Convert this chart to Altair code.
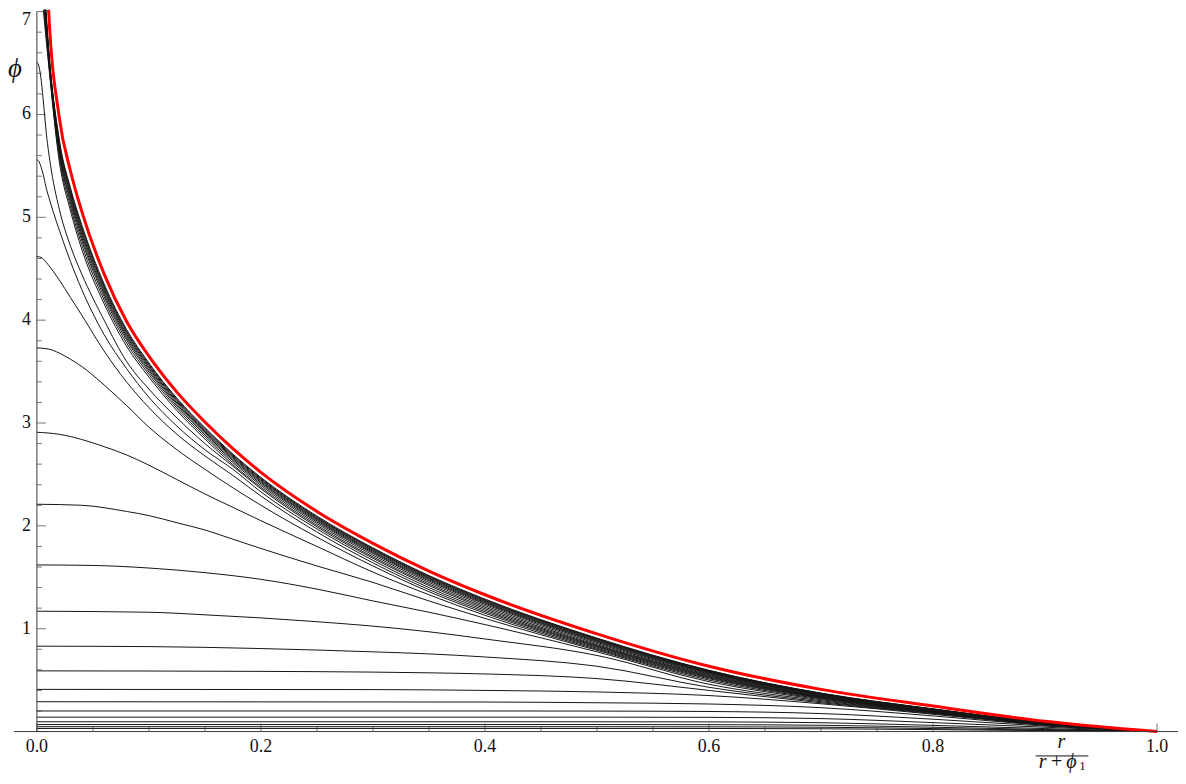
import altair as alt
import pandas as pd

# ---------------- data ----------------
# shared x grid (r/(r+phi1)) for the red envelope and the dense band of curves
GRID_UP = [0.005, 0.01, 0.02, 0.03, 0.04, 0.06, 0.08, 0.1, 0.125, 0.15, 0.175,
           0.2, 0.25, 0.3, 0.35, 0.4, 0.5, 0.6, 0.7, 0.8, 0.9, 1.0]
RED_PHI = [8.6, 7.12, 5.97, 5.45, 5.06, 4.45, 3.99, 3.65, 3.30, 3.01, 2.75,
           2.52, 2.14, 1.83, 1.56, 1.33, 0.95, 0.635, 0.41, 0.248, 0.10, 0.0]

BAND_1 = [7.60, 6.713, 5.757, 5.285, 4.929, 4.353, 3.911, 3.584, 3.241, 2.956, 2.698,
          2.471, 2.095, 1.786, 1.517, 1.288, 0.909, 0.596, 0.374, 0.221, 0.0874, 0.0]
BAND_2 = [7.55, 6.698, 5.738, 5.265, 4.908, 4.336, 3.896, 3.572, 3.230, 2.946, 2.689,
          2.462, 2.086, 1.779, 1.510, 1.281, 0.903, 0.592, 0.372, 0.219, 0.0863, 0.0]
BAND_3 = [7.50, 6.682, 5.719, 5.245, 4.887, 4.318, 3.881, 3.559, 3.219, 2.936, 2.679,
          2.453, 2.078, 1.771, 1.502, 1.274, 0.898, 0.588, 0.369, 0.218, 0.0853, 0.0]
BAND_4 = [7.45, 6.665, 5.697, 5.223, 4.863, 4.299, 3.865, 3.546, 3.207, 2.925, 2.669,
          2.444, 2.069, 1.762, 1.494, 1.266, 0.891, 0.584, 0.367, 0.216, 0.0841, 0.0]
BAND_5 = [7.40, 6.646, 5.674, 5.199, 4.837, 4.278, 3.847, 3.531, 3.194, 2.913, 2.658,
          2.433, 2.059, 1.752, 1.485, 1.257, 0.884, 0.579, 0.364, 0.2145, 0.0829, 0.0]
BAND_6 = [7.35, 6.624, 5.648, 5.172, 4.808, 4.254, 3.828, 3.514, 3.180, 2.900, 2.645,
          2.422, 2.049, 1.742, 1.475, 1.248, 0.876, 0.574, 0.360, 0.2125, 0.0815, 0.0]
BAND_7 = [7.30, 6.602, 5.621, 5.143, 4.778, 4.229, 3.807, 3.496, 3.164, 2.885, 2.632,
          2.409, 2.037, 1.731, 1.464, 1.238, 0.867, 0.568, 0.357, 0.210, 0.0800, 0.0]
BAND_8 = [7.20, 6.572, 5.585, 5.105, 4.737, 4.196, 3.779, 3.473, 3.144, 2.866, 2.615,
          2.393, 2.022, 1.716, 1.450, 1.224, 0.856, 0.561, 0.352, 0.2075, 0.0780, 0.0]
BAND_9 = [7.10, 6.539, 5.544, 5.063, 4.692, 4.160, 3.748, 3.447, 3.121, 2.845, 2.595,
          2.375, 2.005, 1.699, 1.434, 1.209, 0.844, 0.553, 0.347, 0.204, 0.0758, 0.0]

C18_X = [0, 0.002, 0.004, 0.006, 0.0086, 0.012, 0.02, 0.03, 0.04, 0.06, 0.08, 0.1, 0.125,
         0.15, 0.175, 0.2, 0.25, 0.3, 0.35, 0.4, 0.5, 0.6, 0.7, 0.8, 0.9, 1.0]
C18_PHI = [6.51, 6.46, 6.32, 6.1, 5.8, 5.52, 5.08, 4.72, 4.45, 4.0, 3.6, 3.33, 3.05,
           2.80, 2.58, 2.36, 1.99, 1.685, 1.42, 1.195, 0.836, 0.545, 0.342, 0.201, 0.074, 0.0]
C17_X = [0, 0.002, 0.004, 0.0056, 0.008, 0.0116, 0.0234, 0.03, 0.04, 0.06, 0.08, 0.1, 0.125,
         0.15, 0.175, 0.2, 0.25, 0.3, 0.35, 0.4, 0.5, 0.6, 0.7, 0.8, 0.9, 1.0]
C17_PHI = [5.56, 5.54, 5.48, 5.42, 5.3, 5.16, 4.77, 4.57, 4.3, 3.86, 3.53, 3.25, 2.97,
           2.74, 2.55, 2.33, 1.97, 1.665, 1.40, 1.18, 0.828, 0.538, 0.338, 0.199, 0.073, 0.0]
C16_X = [0, 0.005, 0.01, 0.02, 0.03, 0.04, 0.06, 0.08, 0.1, 0.125, 0.15, 0.175,
         0.2, 0.25, 0.3, 0.35, 0.4, 0.5, 0.6, 0.7, 0.8, 0.9, 1.0]
C16_PHI = [4.62, 4.6, 4.54, 4.39, 4.22, 4.05, 3.70, 3.40, 3.15, 2.89, 2.68, 2.49,
           2.29, 1.94, 1.64, 1.38, 1.165, 0.82, 0.53, 0.334, 0.197, 0.0725, 0.0]
C15_X = [0, 0.01, 0.02, 0.03, 0.04, 0.06, 0.08, 0.1, 0.125, 0.15, 0.175,
         0.2, 0.25, 0.3, 0.35, 0.4, 0.5, 0.6, 0.7, 0.8, 0.9, 1.0]
C15_PHI = [3.73, 3.72, 3.68, 3.62, 3.55, 3.37, 3.17, 2.96, 2.74, 2.55, 2.37,
           2.20, 1.89, 1.61, 1.36, 1.15, 0.81, 0.522, 0.33, 0.195, 0.072, 0.0]
C14_X = [0, 0.02, 0.04, 0.06, 0.08, 0.1, 0.125, 0.15, 0.175, 0.2, 0.25, 0.3, 0.35,
         0.4, 0.5, 0.6, 0.7, 0.8, 0.9, 1.0]
C14_PHI = [2.91, 2.89, 2.84, 2.77, 2.69, 2.59, 2.45, 2.31, 2.18, 2.05, 1.80, 1.55, 1.33,
           1.13, 0.80, 0.513, 0.325, 0.193, 0.071, 0.0]
C13_X = [0, 0.04, 0.08, 0.1, 0.125, 0.15, 0.175, 0.2, 0.25, 0.3, 0.35, 0.4, 0.5, 0.6,
         0.7, 0.8, 0.9, 1.0]
C13_PHI = [2.21, 2.2, 2.14, 2.1, 2.03, 1.96, 1.87, 1.78, 1.61, 1.45, 1.27, 1.10, 0.79, 0.50,
           0.318, 0.19, 0.070, 0.0]
C12_X = [0, 0.05, 0.1, 0.15, 0.2, 0.25, 0.3, 0.35, 0.4, 0.5, 0.6, 0.7, 0.8, 0.9, 1.0]
C12_PHI = [1.62, 1.615, 1.59, 1.545, 1.48, 1.385, 1.27, 1.16, 1.04, 0.775, 0.485, 0.31, 0.187,
           0.069, 0.0]
C11_X = [0, 0.1, 0.15, 0.2, 0.25, 0.3, 0.35, 0.4, 0.5, 0.6, 0.7, 0.8, 0.9, 1.0]
C11_PHI = [1.17, 1.16, 1.135, 1.105, 1.068, 1.025, 0.97, 0.9, 0.74, 0.46, 0.30, 0.184, 0.068, 0.0]
C10_X = [0, 0.1, 0.2, 0.3, 0.35, 0.4, 0.5, 0.6, 0.7, 0.8, 0.9, 1.0]
C10_PHI = [0.83, 0.826, 0.807, 0.775, 0.755, 0.725, 0.635, 0.43, 0.29, 0.18, 0.067, 0.0]
C9_X = [0, 0.2, 0.3, 0.35, 0.4, 0.5, 0.6, 0.7, 0.8, 0.9, 1.0]
C9_PHI = [0.59, 0.585, 0.578, 0.571, 0.56, 0.515, 0.40, 0.28, 0.175, 0.066, 0.0]
C8_X = [0, 0.3, 0.4, 0.5, 0.6, 0.7, 0.8, 0.9, 1.0]
C8_PHI = [0.41, 0.408, 0.40, 0.385, 0.35, 0.27, 0.168, 0.064, 0.0]
C7_X = [0, 0.4, 0.5, 0.6, 0.7, 0.8, 0.9, 1.0]
C7_PHI = [0.29, 0.287, 0.28, 0.268, 0.232, 0.152, 0.06, 0.0]
C6_X = [0, 0.4, 0.5, 0.6, 0.7, 0.8, 0.9, 1.0]
C6_PHI = [0.2, 0.2, 0.199, 0.195, 0.175, 0.12, 0.053, 0.0]
LOW_X = [0, 0.5, 0.6, 0.7, 0.8, 0.9, 1.0]
C5_PHI = [0.14, 0.14, 0.138, 0.126, 0.087, 0.042, 0.0]
C4_PHI = [0.095, 0.095, 0.094, 0.086, 0.06, 0.029, 0.0]
C3_PHI = [0.068, 0.068, 0.067, 0.061, 0.042, 0.02, 0.0]
C2_PHI = [0.047, 0.047, 0.046, 0.042, 0.029, 0.014, 0.0]
C1_PHI = [0.03, 0.03, 0.03, 0.027, 0.019, 0.009, 0.0]

X_MAJOR = [0.0, 0.2, 0.4, 0.6, 0.8, 1.0]
X_LABELS = ["0.0", "0.2", "0.4", "0.6", "0.8", "1.0"]
X_MINOR = [0.05, 0.1, 0.15, 0.25, 0.3, 0.35, 0.45, 0.5, 0.55, 0.65, 0.7, 0.75,
           0.85, 0.9, 0.95]
Y_MAJOR = [0, 1, 2, 3, 4, 5, 6, 7]
Y_LABELED = [1, 2, 3, 4, 5, 6]
Y_LABELS = ["1", "2", "3", "4", "5", "6"]
Y_TOP = [7]
Y_TOP_LABEL = ["7"]
Y_MINOR = [0.2, 0.4, 0.6, 0.8, 1.2, 1.4, 1.6, 1.8, 2.2, 2.4, 2.6, 2.8, 3.2, 3.4,
           3.6, 3.8, 4.2, 4.4, 4.6, 4.8, 5.2, 5.4, 5.6, 5.8, 6.2, 6.4, 6.6, 6.8]

# ---------------- layout ----------------
W, H = 1175, 768
PX0, PY0 = 29.0, 725.0      # pixel position of the origin inside the plot area
XU, YU = 1125.0, 103.29     # pixels per data unit
xs = alt.Scale(domain=[(0 - PX0) / XU, (W - PX0) / XU], nice=False, zero=False)
ys = alt.Scale(domain=[(PY0 - H) / YU, PY0 / YU], nice=False, zero=False)

SERIF = "Liberation Serif, Times New Roman, DejaVu Serif, serif"
LINE = "#141414"
AXC = "#3a3a3a"
TXT = "#111111"

black_sets = [
    ("b1", GRID_UP, BAND_1), ("b2", GRID_UP, BAND_2), ("b3", GRID_UP, BAND_3),
    ("b4", GRID_UP, BAND_4), ("b5", GRID_UP, BAND_5), ("b6", GRID_UP, BAND_6),
    ("b7", GRID_UP, BAND_7), ("b8", GRID_UP, BAND_8), ("b9", GRID_UP, BAND_9),
    ("c18", C18_X, C18_PHI), ("c17", C17_X, C17_PHI), ("c16", C16_X, C16_PHI),
    ("c15", C15_X, C15_PHI), ("c14", C14_X, C14_PHI), ("c13", C13_X, C13_PHI),
    ("c12", C12_X, C12_PHI), ("c11", C11_X, C11_PHI), ("c10", C10_X, C10_PHI),
    ("c9", C9_X, C9_PHI), ("c8", C8_X, C8_PHI), ("c7", C7_X, C7_PHI),
    ("c6", C6_X, C6_PHI), ("c5", LOW_X, C5_PHI), ("c4", LOW_X, C4_PHI),
    ("c3", LOW_X, C3_PHI), ("c2", LOW_X, C2_PHI), ("c1", LOW_X, C1_PHI),
]
rows = []
for name, xv, yv in black_sets:
    for a, b in zip(xv, yv):
        rows.append({"curve": name, "x": a, "phi": b})
df_black = pd.DataFrame(rows)
df_red = pd.DataFrame({"x": GRID_UP, "phi": RED_PHI, "curve": "red"})


def X(f="x:Q"):
    return alt.X(f, scale=xs, axis=None)


def Y(f="phi:Q"):
    return alt.Y(f, scale=ys, axis=None)


black = alt.Chart(df_black).mark_line(
    color=LINE, strokeWidth=1, interpolate="monotone", clip=True
).encode(x=X(), y=Y(), detail="curve:N")

red = alt.Chart(df_red).mark_line(
    color="#ff0000", strokeWidth=3, interpolate="monotone", clip=True
).encode(x=X(), y=Y(), detail="curve:N")

# axes lines
x_axis = alt.Chart(pd.DataFrame({"phi": [0.0]})).mark_rule(
    color=AXC, strokeWidth=1
).encode(y=Y(), x=alt.value(6), x2=alt.value(W))
y_axis = alt.Chart(pd.DataFrame({"x": [0.0], "phi": [0.0], "phi2": [7.0]})).mark_rule(
    color=AXC, strokeWidth=1
).encode(x=X(), y=Y(), y2="phi2:Q")

# ticks
df_xmaj = pd.DataFrame({"x": X_MAJOR, "phi": 0.0, "lab": X_LABELS})
df_xmin = pd.DataFrame({"x": X_MINOR, "phi": 0.0})
df_ymaj = pd.DataFrame({"x": 0.0, "phi": Y_MAJOR})
df_ymin = pd.DataFrame({"x": 0.0, "phi": Y_MINOR})
df_ylab = pd.DataFrame({"x": 0.0, "phi": Y_LABELED, "lab": Y_LABELS})
df_ytop = pd.DataFrame({"x": 0.0, "phi": Y_TOP, "lab": Y_TOP_LABEL})

xt_major = alt.Chart(df_xmaj).mark_tick(
    orient="vertical", size=8, thickness=1, color=AXC, yOffset=-4
).encode(x=X(), y=Y())
xt_minor = alt.Chart(df_xmin).mark_tick(
    orient="vertical", size=4.5, thickness=1, color=AXC, yOffset=-2.25
).encode(x=X(), y=Y())
yt_major = alt.Chart(df_ymaj).mark_tick(
    orient="horizontal", size=9, thickness=1, color=AXC, xOffset=4.5
).encode(x=X(), y=Y())
yt_minor = alt.Chart(df_ymin).mark_tick(
    orient="horizontal", size=5, thickness=1, color=AXC, xOffset=2.5
).encode(x=X(), y=Y())

x_labels = alt.Chart(df_xmaj).mark_text(
    font=SERIF, fontSize=18, align="center", baseline="alphabetic", dy=21, color=TXT
).encode(x=X(), y=Y(), text="lab:N")
y_labels = alt.Chart(df_ylab).mark_text(
    font=SERIF, fontSize=18, align="right", baseline="middle", dx=-6, color=TXT
).encode(x=X(), y=Y(), text="lab:N")
y_top_label = alt.Chart(df_ytop).mark_text(
    font=SERIF, fontSize=18, align="right", baseline="middle", dx=-6, dy=8, color=TXT
).encode(x=X(), y=Y(), text="lab:N")

# axis titles
phi_title = alt.Chart(pd.DataFrame({"t": ["\u03d5"]})).mark_text(
    font=SERIF, fontStyle="italic", fontSize=27, align="center", baseline="middle",
    color=TXT
).encode(x=alt.value(7), y=alt.value(60), text="t:N")

num = alt.Chart(pd.DataFrame({"t": ["r"]})).mark_text(
    font=SERIF, fontStyle="italic", fontSize=20, align="center", baseline="alphabetic",
    color=TXT
).encode(x=alt.value(1058), y=alt.value(742), text="t:N")
bar = alt.Chart(pd.DataFrame({"t": [0]})).mark_rule(color=TXT, strokeWidth=1).encode(
    x=alt.value(1032), x2=alt.value(1085), y=alt.value(749.5)
)
den_r = alt.Chart(pd.DataFrame({"t": ["r"]})).mark_text(
    font=SERIF, fontStyle="italic", fontSize=20, align="center", baseline="alphabetic",
    color=TXT
).encode(x=alt.value(1039), y=alt.value(762), text="t:N")
den_plus = alt.Chart(pd.DataFrame({"t": ["+"]})).mark_text(
    font=SERIF, fontSize=20, align="center", baseline="alphabetic", color=TXT
).encode(x=alt.value(1053), y=alt.value(762), text="t:N")
den_phi = alt.Chart(pd.DataFrame({"t": ["\u03d5"]})).mark_text(
    font=SERIF, fontStyle="italic", fontSize=20, align="center", baseline="alphabetic",
    color=TXT
).encode(x=alt.value(1068), y=alt.value(762), text="t:N")
den_one = alt.Chart(pd.DataFrame({"t": ["1"]})).mark_text(
    font=SERIF, fontSize=13, align="center", baseline="alphabetic", color=TXT
).encode(x=alt.value(1079), y=alt.value(764), text="t:N")

chart = alt.layer(
    black, red, x_axis, y_axis, xt_major, xt_minor, yt_major, yt_minor,
    x_labels, y_labels, y_top_label, phi_title, num, bar, den_r, den_plus, den_phi,
    den_one
).properties(
    width=W, height=H, padding=0, background="white",
    autosize=alt.AutoSizeParams(type="none")
).configure_view(stroke="transparent", strokeWidth=0)

chart.save("out.html", embed_options={"renderer": "svg", "actions": False})
